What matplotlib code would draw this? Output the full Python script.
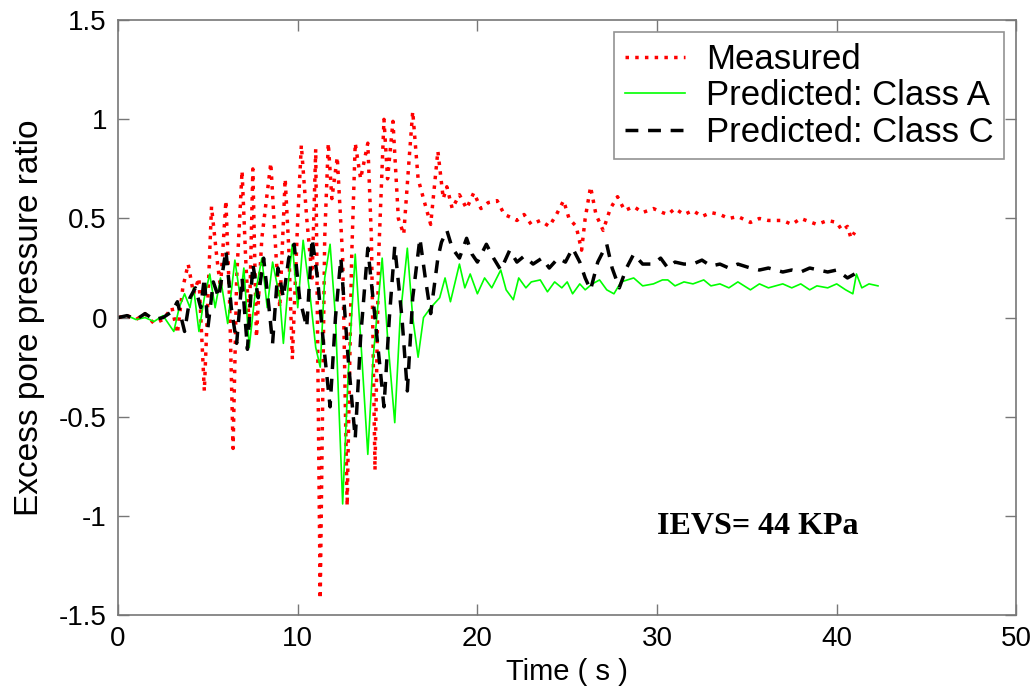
import numpy as np
import matplotlib
matplotlib.use('Agg')
import matplotlib.pyplot as plt

# Measured (red dotted): time (s), excess pore pressure ratio
meas_t = [0.0, 0.5, 1.0, 1.5, 2.0, 2.5, 3.0, 3.3, 3.6, 3.9, 4.2, 4.5, 4.8, 5.0, 5.2, 5.5, 5.7,
          6.0, 6.2, 6.4, 6.6, 6.9, 7.1, 7.3, 7.5, 7.7, 8.0, 8.5, 8.8, 9.0, 9.3, 9.5, 9.7,
          10.0, 10.2, 10.5, 10.8, 11.0, 11.25, 11.5, 11.7, 11.9, 12.2, 12.5, 12.75, 13.0,
          13.2, 13.5, 13.9, 14.1, 14.3, 14.5, 14.8, 15.0, 15.3, 15.6, 15.9, 16.2, 16.4,
          16.7, 17.0, 17.4, 17.8, 18.1, 18.3, 18.6, 19.0, 19.4, 19.8, 20.2, 20.6, 21.1,
          21.5, 22.0, 22.2, 22.6, 23.0, 23.5, 24.0, 24.4, 24.8, 25.1, 25.5, 25.8, 26.0,
          26.3, 26.6, 27.0, 27.4, 27.8, 28.2, 28.7, 29.2, 29.8, 30.3, 30.6, 31.0, 31.5,
          32.0, 32.5, 33.0, 33.5, 34.0, 34.5, 35.2, 35.7, 36.2, 37.0, 37.5, 38.0, 38.9,
          39.5, 40.0, 40.3, 40.6, 40.8, 41.0]
meas_r = [0.00, 0.01, -0.01, 0.02, -0.03, -0.01, 0.05, -0.08, 0.15, 0.27, 0.12, 0.20, -0.37,
          0.10, 0.56, 0.30, 0.15, 0.59, 0.10, -0.66, 0.20, 0.74, 0.30, -0.05, 0.75, -0.10,
          0.40, 0.78, 0.30, 0.05, 0.70, 0.35, -0.21, 0.50, 0.87, 0.50, 0.20, 0.85, -1.42,
          0.40, 0.88, 0.60, 0.81, 0.30, -0.95, 0.30, 0.88, 0.70, 0.88, 0.40, -0.77, 0.30,
          1.00, 0.70, 0.99, 0.50, 0.42, 0.80, 1.04, 0.70, 0.60, 0.47, 0.84, 0.60, 0.66,
          0.55, 0.62, 0.55, 0.63, 0.55, 0.58, 0.59, 0.52, 0.50, 0.49, 0.52, 0.47, 0.49,
          0.46, 0.52, 0.59, 0.50, 0.46, 0.34, 0.50, 0.66, 0.52, 0.44, 0.55, 0.61, 0.54,
          0.56, 0.53, 0.55, 0.53, 0.52, 0.55, 0.52, 0.54, 0.51, 0.53, 0.52, 0.50, 0.51,
          0.48, 0.50, 0.49, 0.49, 0.47, 0.50, 0.47, 0.49, 0.48, 0.44, 0.46, 0.40, 0.43]

# Predicted: Class A (green solid)
class_a_t = [0.0, 0.5, 1.0, 1.5, 2.0, 2.5, 3.1, 3.4, 3.7, 4.0, 4.2, 4.5, 4.8, 5.1, 5.4, 5.7,
             6.1, 6.5, 6.8, 7.0, 7.3, 7.6, 8.0, 8.3, 8.6, 9.0, 9.2, 9.5, 9.7, 10.0, 10.3,
             10.7, 11.0, 11.25, 11.5, 11.8, 12.1, 12.5, 12.8, 13.2, 13.5, 13.9, 14.2, 14.7,
             15.0, 15.4, 15.7, 16.1, 16.4, 16.7, 17.0, 17.4, 17.9, 18.2, 18.5, 19.0, 19.3,
             19.6, 20.0, 20.4, 20.8, 21.3, 21.6, 22.0, 22.3, 22.7, 23.0, 23.5, 23.9, 24.3,
             24.7, 25.0, 25.3, 25.7, 26.0, 26.4, 26.8, 27.2, 27.6, 28.0, 28.7, 29.2, 29.8,
             30.3, 30.6, 31.0, 31.5, 32.0, 32.6, 33.0, 33.5, 34.0, 34.5, 35.2, 35.7, 36.2,
             37.0, 37.5, 38.0, 38.5, 38.9, 39.5, 40.0, 40.5, 40.9, 41.1, 41.4, 41.8, 42.3]
class_a_r = [0.00, 0.01, -0.01, 0.00, -0.02, 0.01, -0.07, 0.05, 0.12, 0.05, 0.15, -0.07,
             0.10, 0.22, 0.05, 0.20, -0.03, 0.29, 0.10, 0.25, -0.15, 0.10, 0.30, 0.05, 0.28,
             0.10, -0.13, 0.20, 0.37, 0.05, 0.39, 0.10, -0.15, -0.25, 0.20, 0.37, 0.00,
             -0.94, -0.30, 0.32, -0.10, -0.69, -0.20, 0.30, -0.10, -0.53, 0.00, 0.35, 0.00,
             -0.20, 0.00, 0.05, 0.10, 0.20, 0.08, 0.27, 0.15, 0.22, 0.12, 0.20, 0.15, 0.24,
             0.14, 0.09, 0.20, 0.15, 0.18, 0.19, 0.13, 0.18, 0.15, 0.18, 0.12, 0.17, 0.14,
             0.17, 0.19, 0.14, 0.12, 0.18, 0.20, 0.16, 0.17, 0.19, 0.19, 0.16, 0.18, 0.17,
             0.19, 0.16, 0.17, 0.15, 0.18, 0.14, 0.17, 0.15, 0.17, 0.15, 0.17, 0.14, 0.16,
             0.15, 0.17, 0.14, 0.12, 0.22, 0.15, 0.17, 0.16]

# Predicted: Class C (black dashed)
class_c_t = [0.0, 0.5, 1.0, 1.5, 2.0, 2.5, 3.0, 3.3, 3.7, 4.0, 4.3, 4.6, 4.8, 5.0, 5.3, 5.6,
             6.0, 6.3, 6.6, 6.9, 7.2, 7.5, 7.8, 8.1, 8.4, 8.6, 8.9, 9.2, 9.5, 9.8, 10.1,
             10.5, 10.8, 11.1, 11.4, 11.8, 12.1, 12.4, 12.8, 13.2, 13.5, 13.9, 14.3, 14.8,
             15.1, 15.4, 15.8, 16.1, 16.4, 16.8, 17.1, 17.4, 17.8, 18.0, 18.3, 18.6, 19.0,
             19.4, 19.7, 20.0, 20.5, 20.9, 21.3, 21.8, 22.2, 22.6, 23.1, 23.6, 24.0, 24.5,
             24.9, 25.3, 25.7, 26.0, 26.3, 26.7, 27.2, 27.5, 27.9, 28.3, 28.7, 29.2, 29.8,
             30.2, 30.6, 31.0, 31.5, 32.0, 32.5, 33.0, 33.5, 34.0, 34.5, 35.2, 35.7, 36.2,
             37.0, 37.5, 38.0, 38.5, 39.0, 39.5, 40.0, 40.6, 41.0]
class_c_r = [0.00, 0.01, -0.01, 0.02, -0.01, 0.00, 0.03, 0.08, -0.07, 0.10, 0.15, 0.05,
             0.20, -0.05, 0.18, 0.10, 0.34, 0.05, -0.13, 0.20, -0.16, 0.27, 0.10, 0.30,
             0.05, -0.13, 0.25, 0.10, 0.30, 0.37, 0.10, -0.05, 0.40, 0.20, -0.10, -0.45,
             0.00, 0.30, -0.20, -0.61, -0.10, 0.35, 0.00, -0.45, 0.00, 0.36, 0.00, -0.37,
             0.10, 0.40, 0.20, 0.02, 0.30, 0.38, 0.44, 0.35, 0.30, 0.40, 0.32, 0.28, 0.37,
             0.30, 0.24, 0.34, 0.28, 0.31, 0.27, 0.30, 0.25, 0.30, 0.28, 0.35, 0.28, 0.20,
             0.14, 0.28, 0.37, 0.25, 0.15, 0.25, 0.32, 0.27, 0.27, 0.30, 0.25, 0.28, 0.27,
             0.27, 0.29, 0.26, 0.27, 0.25, 0.27, 0.25, 0.24, 0.25, 0.23, 0.24, 0.23, 0.25,
             0.24, 0.23, 0.24, 0.20, 0.22]

plt.rcParams['font.family'] = ['Liberation Sans', 'DejaVu Sans']
plt.rcParams['axes.unicode_minus'] = False

fig = plt.figure(figsize=(10.36, 6.98), dpi=100)
ax = fig.add_axes([0.114, 0.119, 0.867, 0.852])

ax.plot(meas_t, meas_r, color='#ff0000', linewidth=2.5, linestyle=(0, (1, 1.8)),
        label='Measured')
ax.plot(class_a_t, class_a_r, color='#00ff00', linewidth=1.2, label='Predicted: Class A')
ax.plot(class_c_t, class_c_r, color='black', linewidth=2.5, linestyle=(0, (3.7, 2.8)),
        label='Predicted: Class C')

ax.set_xlim(0, 50)
ax.set_ylim(-1.5, 1.5)
ax.set_xticks([0, 10, 20, 30, 40, 50])
ax.set_yticks([-1.5, -1, -0.5, 0, 0.5, 1, 1.5])
ax.set_yticklabels(['-1.5', '-1', '-0.5', '0', '0.5', '1', '1.5'])
ax.tick_params(direction='in', length=8, width=1, color='#777777', labelsize=20,
               top=True, right=True, pad=8)
for s in ax.spines.values():
    s.set_color('#777777')
    s.set_linewidth(1.2)

ax.set_xlabel('Time ( s )', fontsize=21, labelpad=4)
ax.set_ylabel('Excess pore pressure ratio', fontsize=24, labelpad=10)

# MATLAB-like legend box in the upper right
leg = ax.legend(loc='upper right', fontsize=25, frameon=True, fancybox=False,
                edgecolor='#777777', handlelength=1.75, handletextpad=0.6,
                borderpad=0.3, labelspacing=0.1, borderaxespad=0.35)
leg.get_frame().set_linewidth(1.2)

ax.text(35.6, -1.055, 'IEVS= 44 KPa', fontsize=23, fontweight='bold',
        family=['Liberation Serif', 'DejaVu Serif'], ha='center', va='center')

fig.savefig('out.png', dpi=100)
